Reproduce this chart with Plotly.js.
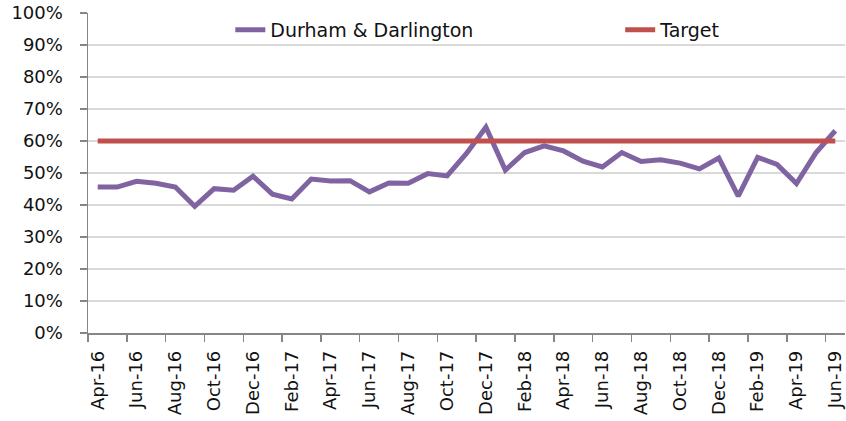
<!DOCTYPE html>
<html>
<head>
<meta charset="utf-8">
<script src="https://cdn.plot.ly/plotly-3.0.1.min.js"></script>
<style>html,body{margin:0;padding:0;background:#fff;}#chart{width:846px;height:421px;}</style>
</head>
<body>
<div id="chart"></div>
<script>
const months = ["Apr-16","May-16","Jun-16","Jul-16","Aug-16","Sep-16","Oct-16","Nov-16","Dec-16","Jan-17","Feb-17","Mar-17",
  "Apr-17","May-17","Jun-17","Jul-17","Aug-17","Sep-17","Oct-17","Nov-17","Dec-17","Jan-18","Feb-18","Mar-18",
  "Apr-18","May-18","Jun-18","Jul-18","Aug-18","Sep-18","Oct-18","Nov-18","Dec-18","Jan-19","Feb-19","Mar-19",
  "Apr-19","May-19","Jun-19"];
const durham = [0.456,0.456,0.474,0.468,0.456,0.396,0.451,0.446,0.490,0.434,0.419,0.481,
  0.475,0.476,0.441,0.469,0.468,0.498,0.491,0.561,0.643,0.509,0.564,0.585,
  0.569,0.537,0.519,0.564,0.536,0.541,0.531,0.513,0.547,0.428,0.549,0.527,
  0.467,0.563,0.632];
const target = [0.6,0.6,0.6,0.6,0.6,0.6,0.6,0.6,0.6,0.6,0.6,0.6,
  0.6,0.6,0.6,0.6,0.6,0.6,0.6,0.6,0.6,0.6,0.6,0.6,
  0.6,0.6,0.6,0.6,0.6,0.6,0.6,0.6,0.6,0.6,0.6,0.6,
  0.6,0.6,0.6];
const seriesNames = ["Durham & Darlington", "Target"];

const traces = [
  {x: months, y: durham, name: seriesNames[0], type: 'scatter', mode: 'lines',
   line: {color: '#8064A2', width: 5}, legend: 'legend'},
  {x: months, y: target, name: seriesNames[1], type: 'scatter', mode: 'lines',
   line: {color: '#C0504D', width: 5}, legend: 'legend2'}
];

const legendFont = {family: 'DejaVu Sans', size: 19, color: '#111'};
const layout = {
  width: 846, height: 421,
  margin: {l: 88, r: 1, t: 13, b: 88},
  paper_bgcolor: '#fff', plot_bgcolor: '#fff',
  font: {family: 'DejaVu Sans', size: 17, color: '#111'},
  showlegend: true,
  legend: {orientation: 'h', x: 0.188, xanchor: 'left', y: 0.947, yanchor: 'middle',
    font: legendFont, bgcolor: 'rgba(0,0,0,0)'},
  legend2: {orientation: 'h', x: 0.703, xanchor: 'left', y: 0.947, yanchor: 'middle',
    font: legendFont, bgcolor: 'rgba(0,0,0,0)'},
  xaxis: {type: 'category', categoryorder: 'array', categoryarray: months,
    range: [-0.5, 38.5], dtick: 2, tickson: 'boundaries', tickangle: -90,
    ticks: 'outside', ticklen: 7, tickcolor: '#868686', tickwidth: 1.5,
    showline: true, linecolor: '#868686', linewidth: 1.5, showgrid: false,
    ticklabelstandoff: 9,
    tickfont: {family: 'DejaVu Sans', size: 18, color: '#111'}, fixedrange: true},
  yaxis: {range: [0, 1], dtick: 0.1, tickformat: '.0%',
    ticks: 'outside', ticklen: 7, tickcolor: '#868686', tickwidth: 1.5,
    showline: true, linecolor: '#868686', linewidth: 1.5,
    showgrid: true, gridcolor: '#d9d9d9', gridwidth: 1.5, zeroline: false,
    ticklabelstandoff: 13,
    tickfont: {family: 'DejaVu Sans', size: 18, color: '#111'}, fixedrange: true}
};

Plotly.newPlot('chart', traces, layout, {displayModeBar: false, staticPlot: true});
</script>
</body>
</html>
